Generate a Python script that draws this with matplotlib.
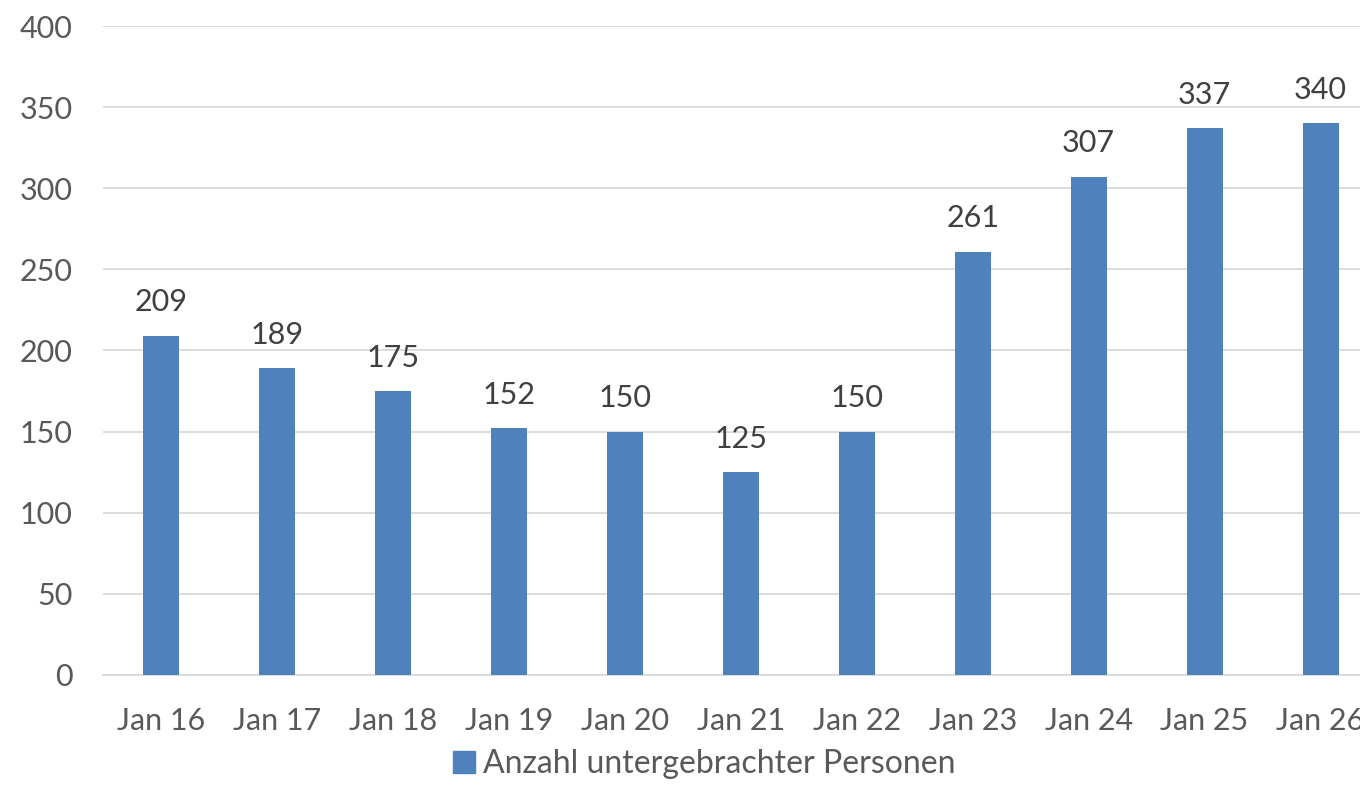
import matplotlib.pyplot as plt
from matplotlib.patches import Patch

# === Data ===
months = ["Jan 16", "Jan 17", "Jan 18", "Jan 19", "Jan 20", "Jan 21",
          "Jan 22", "Jan 23", "Jan 24", "Jan 25", "Jan 26"]
persons = [209, 189, 175, 152, 150, 125, 150, 261, 307, 337, 340]
series_name = "Anzahl untergebrachter Personen"

bar_color = "#4F81BD"
tick_color = "#595959"
label_color = "#404040"
grid_color = "#D9D9D9"

plt.rcParams["font.family"] = ["Lato", "DejaVu Sans"]

fig = plt.figure(figsize=(13.6, 8.05), dpi=100)
ax = fig.add_axes([0.0757, 0.1615, 0.9243, 0.8062])

x = list(range(len(months)))
ax.bar(x, persons, width=0.31, color=bar_color, zorder=3)

# value labels above bars
for xi, v in zip(x, persons):
    ax.text(xi, v + 12, str(v), ha="center", va="bottom",
            fontsize=22, color=label_color)

ax.set_xlim(-0.5, 10.34)
ax.set_ylim(0, 400)
ax.set_yticks(range(0, 401, 50))
ax.set_xticks(x)
ax.set_xticklabels(months)
ax.tick_params(axis="both", length=0, labelsize=22, labelcolor=tick_color)
ax.tick_params(axis="x", pad=23)
ax.tick_params(axis="y", pad=22)

ax.grid(axis="y", color=grid_color, linewidth=1.3, zorder=0)
for s in ["top", "right", "left"]:
    ax.spines[s].set_visible(False)
ax.spines["bottom"].set_color(grid_color)
ax.spines["bottom"].set_linewidth(1.3)

# the last tick label runs off the right edge, as in the source chart
handle = Patch(color=bar_color, label=series_name)
fig.legend(handles=[handle], loc="center", bbox_to_anchor=(0.518, 0.051),
           frameon=False, fontsize=23, labelcolor=tick_color,
           handlelength=0.7, handleheight=0.7, handletextpad=0.25)

fig.savefig("out.png", dpi=100)
